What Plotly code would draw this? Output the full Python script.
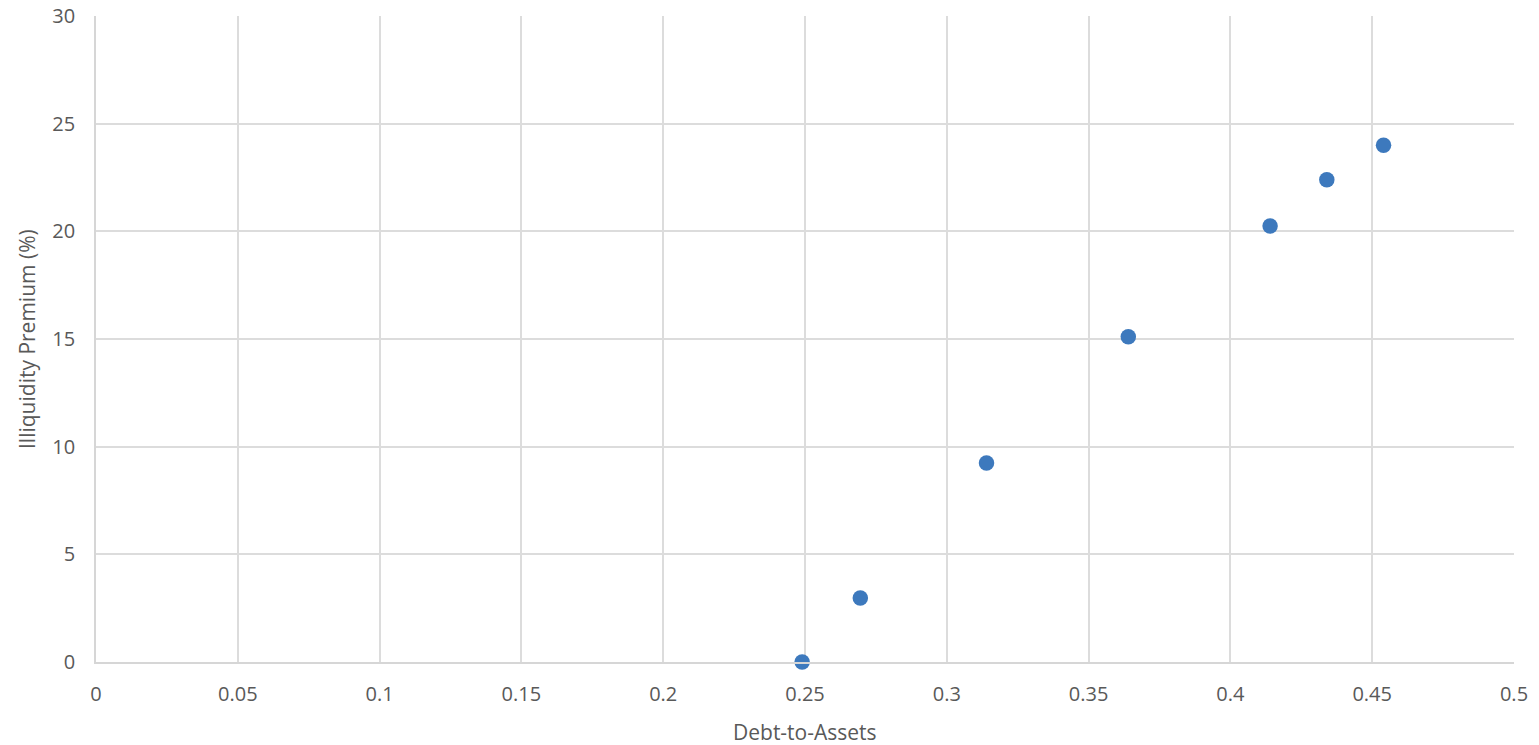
import plotly.graph_objects as go

debt_to_assets = [0.249, 0.2695, 0.314, 0.364, 0.414, 0.434, 0.454]
illiquidity_premium = [0.0, 2.97, 9.24, 15.1, 20.25, 22.4, 24.0]

FONT = "Open Sans, Liberation Sans, sans-serif"
GREY = "#595959"

fig = go.Figure()
fig.add_trace(go.Scatter(
    x=debt_to_assets, y=illiquidity_premium, mode="markers",
    marker=dict(size=15.5, color="#3d79bd"),
    showlegend=False, cliponaxis=False,
))

axis_common = dict(
    showgrid=True, gridcolor="#dcdcdc", gridwidth=1.8,
    zeroline=False, showline=True, linecolor="#d6d6d6", linewidth=1.8,
    ticks="", tickfont=dict(family=FONT, size=20, color=GREY),
    automargin=False, ticklabeloverflow="allow",
)
fig.update_layout(
    width=1539, height=745,
    margin=dict(l=96, r=25, t=16, b=83),
    paper_bgcolor="white", plot_bgcolor="white",
    xaxis=dict(range=[0, 0.5], dtick=0.05, tick0=0, ticklabelstandoff=13, **axis_common),
    yaxis=dict(range=[0, 30], dtick=5, tick0=0, ticklabelstandoff=15, **axis_common),
    annotations=[
        dict(text="Debt-to-Assets", xref="paper", yref="paper", x=0.5, y=0,
             xanchor="center", yanchor="middle", yshift=-70, showarrow=False,
             font=dict(family=FONT, size=21, color=GREY)),
        dict(text="Illiquidity Premium (%)", xref="paper", yref="paper", x=0, y=0.5,
             xanchor="center", yanchor="middle", xshift=-69, textangle=-90, showarrow=False,
             font=dict(family=FONT, size=21, color=GREY)),
    ],
)
fig.write_html("out.html", config={"displayModeBar": False},
               post_script="document.body.style.margin='0';document.body.style.overflow='hidden';")
